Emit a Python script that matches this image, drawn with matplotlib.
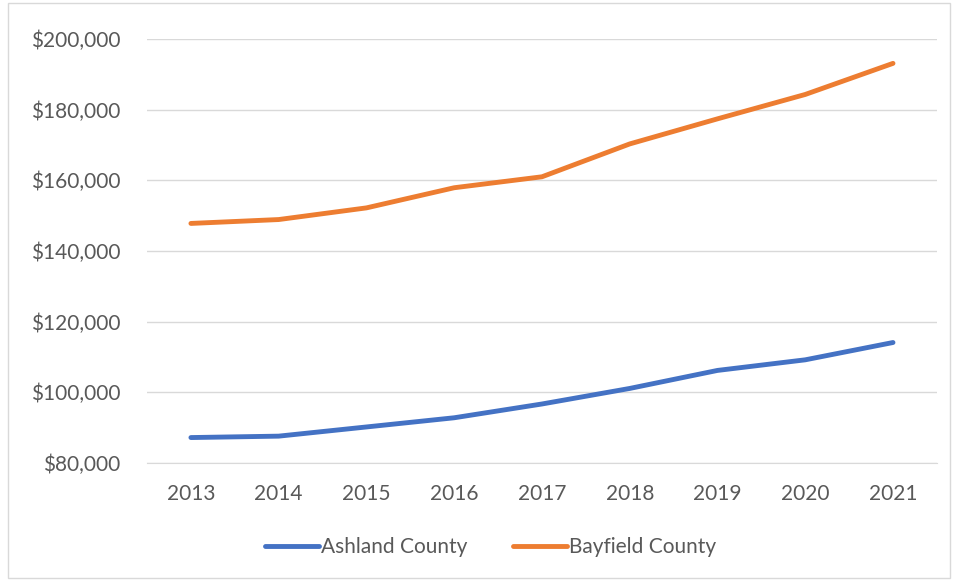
import matplotlib
matplotlib.use("Agg")
import matplotlib.pyplot as plt
from matplotlib.patches import Rectangle
from matplotlib.ticker import FuncFormatter

years = ["2013", "2014", "2015", "2016", "2017", "2018", "2019", "2020", "2021"]
ashland = [87200, 87600, 90200, 92800, 96700, 101100, 106200, 109200, 114100]
bayfield = [147800, 148900, 152200, 157900, 161000, 170300, 177400, 184300, 193100]

TEXT = "#595959"
GRID = "#D9D9D9"

plt.rcParams["font.family"] = ["Lato", "DejaVu Sans"]

fig = plt.figure(figsize=(9.56, 5.81), dpi=100)
ax = fig.add_axes([0.1538, 0.2031, 0.8262, 0.7298])

x = range(len(years))
ax.plot(x, ashland, color="#4472C4", lw=3.5, solid_capstyle="round",
        solid_joinstyle="round", label="Ashland County")
ax.plot(x, bayfield, color="#ED7D31", lw=3.5, solid_capstyle="round",
        solid_joinstyle="round", label="Bayfield County")

ax.set_xlim(-0.5, len(years) - 0.5)
ax.set_ylim(80000, 200000)
ax.set_yticks(range(80000, 200001, 20000))
ax.yaxis.set_major_formatter(FuncFormatter(lambda v, p: f"${v:,.0f}"))
ax.set_xticks(list(x)); ax.set_xticklabels(years)
ax.grid(axis="y", color=GRID, lw=1)
ax.set_axisbelow(True)
for s in ["top", "right", "left"]:
    ax.spines[s].set_visible(False)
ax.spines["bottom"].set_color(GRID)
ax.tick_params(length=0, colors=TEXT, labelsize=15)
ax.tick_params(axis="y", pad=19)
ax.tick_params(axis="x", pad=15)

fig.legend(loc="center", bbox_to_anchor=(0.513, 0.058), ncol=2, frameon=False,
           fontsize=15, labelcolor=TEXT, handlelength=2.6, handletextpad=0.1,
           columnspacing=2.2)

fig.patches.append(Rectangle((8 / 956, 3 / 581), 942 / 956, 575 / 581,
                             transform=fig.transFigure, fill=False,
                             edgecolor=GRID, lw=1))

fig.savefig("out.png", dpi=100)
